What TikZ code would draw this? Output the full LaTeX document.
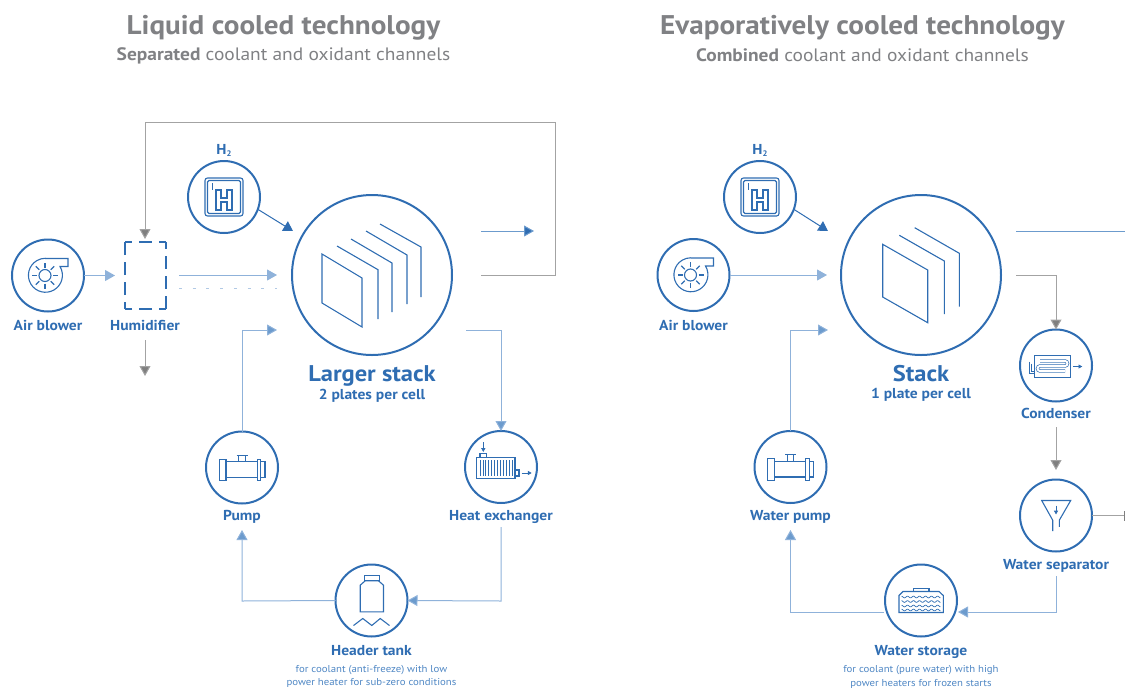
\documentclass[tikz,border=0pt]{standalone}
\usepackage{fontspec}
\setmainfont[FakeStretch=1.08]{PT Sans}
\usetikzlibrary{arrows.meta}
\definecolor{mainblue}{HTML}{2F6DB2}
\definecolor{lightline}{HTML}{8FB2DA}
\definecolor{midline}{HTML}{6C9BCD}
\definecolor{greyline}{HTML}{A3A3A3}
\definecolor{greytip}{HTML}{7F7F7F}
\definecolor{titlegrey}{HTML}{808184}
\definecolor{subblue}{HTML}{4F87C4}
\tikzset{
  x=1pt,y=-1pt,
  ring/.style={circle,draw=mainblue,line width=2pt,minimum size=72pt,inner sep=0pt,outer sep=0pt},
  bigring/.style={ring,minimum size=160pt},
  icon/.style={draw=mainblue,line width=1.1pt,line join=miter},
  lab/.style={font=\fontsize{14.4}{16}\selectfont\bfseries,text=mainblue,inner sep=0pt,anchor=base},
  biglab/.style={font=\fontsize{22.7}{25}\selectfont\bfseries,text=mainblue,inner sep=0pt,anchor=base},
  sublab/.style={font=\fontsize{10}{12}\selectfont,text=subblue,inner sep=0pt,anchor=base},
  titl/.style={font=\fontsize{27}{29}\selectfont\bfseries,text=titlegrey,inner sep=0pt,anchor=base},
  stitl/.style={font=\fontsize{18}{20}\selectfont,text=titlegrey,inner sep=0pt,anchor=base},
  lightarrow/.style={draw=lightline,line width=1pt,-{Triangle[length=10pt,width=11pt,fill=lightline]}},
  midarrow/.style={draw=lightline,line width=1pt,-{Triangle[length=10pt,width=11pt,fill=midline]}},
  darkarrow/.style={draw=midline,line width=1pt,-{Triangle[length=10pt,width=11pt,fill=mainblue]}},
  greyarrow/.style={draw=greyline,line width=1pt,-{Triangle[length=10pt,width=11pt,fill=greytip]}},
  harrow/.style={draw=mainblue,line width=1pt,-{Triangle[length=9.5pt,width=11pt,fill=mainblue]}},
  tinyarrow/.style={draw=mainblue,line width=.9pt,-{Triangle[length=3.8pt,width=4pt,fill=mainblue]}},
  blowericon/.pic={
    \draw[icon] (-3,-17) -- (20,-17) -- (20,-9) -- (12,-9) arc[start angle=-31,end angle=270,radius=17];
    \draw[icon] (-3,0) circle[radius=6];
    \foreach \a in {0,45,...,315} \draw[icon] (-3,0) ++(\a:8) -- ++(\a:5);
  },
  hicon/.pic={
    \draw[icon,rounded corners=2.5pt] (-19,-19) rectangle (19,19);
    \draw[icon,rounded corners=1.5pt] (-16.5,-16.5) rectangle (16.5,16.5);
    \draw[icon] (-11.5,-14) -- (-11.5,-7.5);
    \draw[icon] (-8,-7) -- (-3,-7) -- (-3,1) -- (3,1) -- (3,-7) -- (8,-7) -- (8,13) -- (3,13) -- (3,5) -- (-3,5) -- (-3,13) -- (-8,13) -- cycle;
  },
  pumpicon/.pic={
    \draw[icon] (-22.7,-8.3) rectangle (-16,13.3);
    \draw[icon] (-16,-5.7) rectangle (15.3,10);
    \draw[icon] (15.3,-8.3) rectangle (18.7,13.3);
    \draw[icon] (18.7,-5.7) rectangle (23,10);
    \draw[icon] (-3.2,-5.7) -- (-3.2,-12.3) (3.2,-5.7) -- (3.2,-12.3) (-5.5,-12.3) -- (5.5,-12.3);
  },
  hxicon/.pic={
    \draw[icon] (-24.3,-9.3) rectangle (14,11.3);
    \foreach \i in {0,...,11} \draw[icon,line width=.7pt] ({-21+\i*2.9},-7) -- ({-21+\i*2.9},9);
    \draw[icon] (-21,-9.3) rectangle (-14.3,-13.7);
    \draw[icon] (14,3) rectangle (18,9);
    \draw[tinyarrow] (-17.7,-25) -- (-17.7,-15);
    \draw[tinyarrow] (20.7,6) -- (30.7,6);
  },
  tankicon/.pic={
    \draw[icon] (-11.3,11.3) -- (12,11.3) -- (12,-15.3) -- (7,-19.7) -- (-6.3,-19.7) -- (-11.3,-15.3) -- cycle;
    \draw[icon] (-7.3,-19.7) rectangle (8,-24.7);
    \draw[icon] (-18,25) -- (-8.7,18) -- (0.3,25) -- (8.7,18) -- (18,25);
  },
  condicon/.pic={
    \draw[icon] (-21.7,-10.3) rectangle (14.7,11.7);
    \draw[mainblue,line width=.7pt,double=white,double distance=2pt] (-16,-4.5) -- (9,-4.5) arc[start angle=-90,end angle=90,radius=2.5] -- (-16,0.5) arc[start angle=270,end angle=90,radius=2.5] -- (9,5.5);
    \draw[icon,line width=.8pt] (-27,-4) -- (-27,8) -- (-21.7,8) (-24.5,-2) -- (-24.5,6) -- (-21.7,6);
    \draw[tinyarrow] (17.3,1) -- (26.3,1);
  },
  sepicon/.pic={
    \draw[icon] (3.3,11.3) -- (3.3,4.7) -- (14.7,-15) -- (-14.3,-15) -- (-3.3,4.7) -- (-3.3,15.7);
    \draw[tinyarrow] (0,-10) -- (0,-1);
  },
  storeicon/.pic={
    \draw[icon] (-22,12) -- (-22,-5) -- (-18,-9) -- (18,-9) -- (22.3,-5) -- (22.3,12) -- cycle;
    \draw[icon] (-7.7,-9) -- (-7.7,-12) -- (8,-12) -- (8,-9);
    \foreach \y in {-3.5,1,5.5,9.5}
      \draw[mainblue,line width=.7pt] plot[domain=-19.5:19.5,samples=50,smooth] (\x,{\y+0.9*sin(\x*60)});
  },
  hubox/.style={line width=1.9pt,draw=mainblue,dash pattern=on 13pt off 7pt,dash phase=6pt},
}
\begin{document}
\begin{tikzpicture}
\useasboundingbox (0,0) rectangle (1125,689);
% ---- titles
\node[titl] (t1) at (283.5,34.3) {Liquid cooled technology};
\node[stitl] (s1) at (283.5,60) {\textbf{Separated} coolant and oxidant channels};
\node[titl] (t2) at (862.5,34.3) {Evaporatively cooled technology};
\node[stitl] (s2) at (862.5,61.7) {\textbf{Combined} coolant and oxidant channels};
% ---- left nodes
\node[ring] (ab1) at (48,275.5) {};
\node[ring] (h1) at (224,197) {};
\node[bigring] (st1) at (372,275) {};
\node[ring] (pu1) at (242,467.5) {};
\node[ring] (hx1) at (501,467) {};
\node[ring] (ta1) at (371.5,600.5) {};
\node[minimum width=41pt,minimum height=67pt,inner sep=0pt,outer sep=0pt] (hu1) at (145.5,275.5) {};
\draw[hubox] (hu1.north west) -- (hu1.north east);
\draw[hubox] (hu1.north east) -- (hu1.south east);
\draw[hubox] (hu1.south east) -- (hu1.south west);
\draw[hubox] (hu1.south west) -- (hu1.north west);
\pic at (ab1) {blowericon};
\pic at (h1) {hicon};
\pic at (pu1) {pumpicon};
\pic at (hx1) {hxicon};
\pic at (ta1) {tankicon};
\draw[icon] (322,254) -- (362,278) -- (362,327) -- (322,303) -- cycle;
\draw[icon] (337,246) -- (378,269.7) -- (378,319);
\draw[icon] (351,239) -- (392,263) -- (392,312);
\draw[icon] (366,231) -- (407,255) -- (407,304);
\draw[icon] (380,224) -- (421,247) -- (421,297);
\node[lab] (lab1) at (48,330) {Air blower};
\node[lab] (lhu) at (145,330) {Humidifier};
\node[lab] (lh1) at (224,154) {H\raisebox{-2.5pt}{\fontsize{8}{8}\selectfont 2}};
\node[biglab] (lst1) at (372,381) {Larger stack};
\node[lab] (lpl1) at (372,399) {2 plates per cell};
\node[lab] (lpu1) at (242,520) {Pump};
\node[lab] (lhx1) at (501,520) {Heat exchanger};
\node[lab] (lta1) at (371.5,655) {Header tank};
\node[sublab] (sa1) at (371.5,672.3) {for coolant (anti-freeze) with low};
\node[sublab] (sa2) at (371.5,685) {power heater for sub-zero conditions};
% ---- left connectors
\coordinate (ex1) at (481,275);
\coordinate (ex2) at (555,275);
\coordinate (ex3) at (555,122);
\coordinate (ex4) at (145,122);
\coordinate (hutop) at (145,239);
\draw[greyarrow] (ex1) -- (ex2) -- (ex3) -- (ex4) -- (hutop);
\coordinate (hud1) at (145,340);
\coordinate (hud2) at (145,376);
\draw[greyarrow] (hud1) -- (hud2);
\coordinate (hui) at (115,275.5);
\draw[lightarrow] (ab1.east) -- (hui);
\coordinate (in1) at (179,275);
\coordinate (in2) at (277,275);
\draw[lightarrow] (in1) -- (in2);
\coordinate (dot1) at (179,288.5);
\coordinate (dot2) at (277,288.5);
\draw[lightline!70,line width=1pt,dash pattern=on 3pt off 10.7pt] (dot1) -- (dot2);
\coordinate (hin1) at (293,231);
\draw[harrow] (h1.-20) -- (hin1);
\coordinate (o1) at (481,231);
\coordinate (o2) at (534,231);
\draw[darkarrow] (o1) -- (o2);
\coordinate (pi1) at (242,330);
\coordinate (pi2) at (277,330);
\draw[midarrow] (pu1.north) -- (pi1) -- (pi2);
\coordinate (he1) at (466,330);
\coordinate (he2) at (501,330);
\draw[midarrow] (he1) -- (he2) -- (hx1.north);
\coordinate (he3) at (501,527);
\coordinate (he4) at (501,601);
\draw[midarrow] (he3) -- (he4) -- (ta1.east);
\coordinate (ta2) at (242,601);
\coordinate (ta3) at (242,530);
\draw[midarrow] (ta1.west) -- (ta2) -- (ta3);
% ---- right nodes
\node[ring] (ab2) at (693.5,275) {};
\node[ring] (h2) at (760,197) {};
\node[bigring] (st2) at (921,275) {};
\node[ring] (co2) at (1056,365.5) {};
\node[ring] (se2) at (1056,515.5) {};
\node[ring] (pu2) at (790.5,467) {};
\node[ring] (ws2) at (921,600.5) {};
\pic at (ab2) {blowericon};
\pic at (h2) {hicon};
\pic at (pu2) {pumpicon};
\pic at (co2) {condicon};
\pic at (se2) {sepicon};
\pic at (ws2) {storeicon};
\draw[icon] (882.7,244.3) -- (927.7,270) -- (927.7,322.7) -- (882.7,297) -- cycle;
\draw[icon] (899.3,235.3) -- (944.3,261) -- (944.3,314);
\draw[icon] (914.7,227.7) -- (959.3,253.3) -- (959.3,306.7);
\node[lab] (lab2) at (693.5,330) {Air blower};
\node[lab] (lh2) at (760,154) {H\raisebox{-2.5pt}{\fontsize{8}{8}\selectfont 2}};
\node[biglab] (lst2) at (921,381) {Stack};
\node[lab] (lpl2) at (921,398.5) {1 plate per cell};
\node[lab] (lco2) at (1056,418.5) {Condenser};
\node[lab] (lse2) at (1056,569) {Water separator};
\node[lab] (lpu2) at (790.5,520) {Water pump};
\node[lab] (lws2) at (921,655) {Water storage};
\node[sublab] (sb1) at (921,672) {for coolant (pure water) with high};
\node[sublab] (sb2) at (921,686) {power heaters for frozen starts};
% ---- right connectors
\coordinate (a2) at (827,275);
\draw[lightarrow] (ab2.east) -- (a2);
\coordinate (hin2) at (828,231);
\draw[harrow] (h2.-20) -- (hin2);
\coordinate (r1) at (1016,231);
\coordinate (r2) at (1125,231);
\draw[midline,line width=1pt] (r1) -- (r2);
\coordinate (g1) at (1016,275);
\coordinate (g2) at (1056,275);
\draw[greyarrow] (g1) -- (g2) -- (co2.north);
\coordinate (g3) at (1056,427);
\coordinate (g4) at (1056,470);
\draw[greyarrow] (g3) -- (g4);
\coordinate (g5) at (1124.5,515.5);
\draw[greyline,line width=1pt] (se2.east) -- (g5);
\draw[greytip,line width=1pt] ([yshift=-5pt]g5) -- ([yshift=5pt]g5);
\coordinate (b1) at (1056,576);
\coordinate (b2) at (1056,612);
\coordinate (b3) at (958,612);
\draw[midarrow] (b1) -- (b2) -- (b3);
\coordinate (b4) at (884,612);
\coordinate (b5) at (790.5,612);
\coordinate (b6) at (790.5,530);
\draw[midarrow] (b4) -- (b5) -- (b6);
\coordinate (c1) at (790.5,330);
\coordinate (c2) at (828,330);
\draw[midarrow] (pu2.north) -- (c1) -- (c2);
\end{tikzpicture}
\end{document}
